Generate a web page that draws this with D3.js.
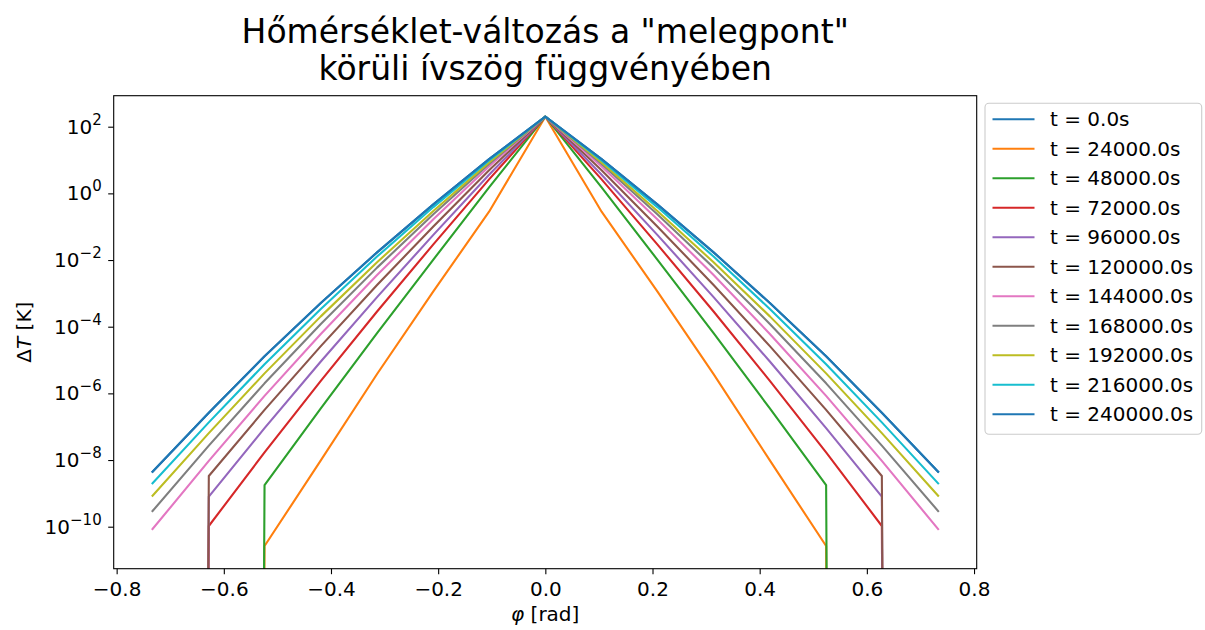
<!DOCTYPE html>
<html>
<head>
<meta charset="utf-8">
<script src="https://cdn.jsdelivr.net/npm/d3@7"></script>
<style>
  body { margin: 0; background: #fff; }
  text { font-family: "DejaVu Sans", sans-serif; fill: #000; }
</style>
</head>
<body>
<div id="chart"></div>
<script>
// angle around the hot spot, in radians (-42 deg .. 42 deg, 6 deg steps)
var phi = [-0.733, -0.628, -0.524, -0.419, -0.314, -0.209, -0.105, 0,
           0.105, 0.209, 0.314, 0.419, 0.524, 0.628, 0.733];

var labels = ["t = 0.0s", "t = 24000.0s", "t = 48000.0s", "t = 72000.0s",
              "t = 96000.0s", "t = 120000.0s", "t = 144000.0s", "t = 168000.0s",
              "t = 192000.0s", "t = 216000.0s", "t = 240000.0s"];

// temperature change [K], 0 where the heat has not arrived yet
var dT_0      = [4.47e-9, 2.63e-7, 1.29e-5, 5.13e-4, 1.70e-2, 0.468, 10.6, 200, 10.6, 0.468, 1.70e-2, 5.13e-4, 1.29e-5, 2.63e-7, 4.47e-9];
var dT_24000  = [0, 0, 2.63e-11, 9.77e-9, 3.80e-6, 1.15e-3, 0.282, 200, 0.282, 1.15e-3, 3.80e-6, 9.77e-9, 2.63e-11, 0, 0];
var dT_48000  = [0, 0, 1.78e-9, 3.53e-7, 6.37e-5, 1.03e-2, 1.51, 200, 1.51, 1.03e-2, 6.37e-5, 3.53e-7, 1.78e-9, 0, 0];
var dT_72000  = [0, 1.05e-10, 1.70e-8, 2.38e-6, 2.86e-4, 2.95e-2, 2.62, 200, 2.62, 2.95e-2, 2.86e-4, 2.38e-6, 1.70e-8, 1.05e-10, 0];
var dT_96000  = [0, 7.94e-10, 9.10e-8, 9.04e-6, 7.71e-4, 5.69e-2, 3.62, 200, 3.62, 5.69e-2, 7.71e-4, 9.04e-6, 9.10e-8, 7.94e-10, 0];
var dT_120000 = [0, 3.31e-9, 3.20e-7, 2.61e-5, 1.78e-3, 0.102, 4.93, 200, 4.93, 0.102, 1.78e-3, 2.61e-5, 3.20e-7, 3.31e-9, 0];
var dT_144000 = [8.51e-11, 9.40e-9, 8.39e-7, 6.07e-5, 3.55e-3, 0.168, 6.44, 200, 6.44, 0.168, 3.55e-3, 6.07e-5, 8.39e-7, 9.40e-9, 8.51e-11];
var dT_168000 = [2.95e-10, 2.70e-8, 2.00e-6, 1.21e-4, 5.92e-3, 0.236, 7.60, 200, 7.60, 0.236, 5.92e-3, 1.21e-4, 2.00e-6, 2.70e-8, 2.95e-10];
var dT_192000 = [8.51e-10, 6.41e-8, 3.98e-6, 2.04e-4, 8.57e-3, 0.297, 8.49, 200, 8.49, 0.297, 8.57e-3, 2.04e-4, 3.98e-6, 6.41e-8, 8.51e-10];
var dT_216000 = [2.00e-9, 1.35e-7, 7.50e-6, 3.41e-4, 1.27e-2, 0.388, 9.73, 200, 9.73, 0.388, 1.27e-2, 3.41e-4, 7.50e-6, 1.35e-7, 2.00e-9];
var dT_240000 = [4.47e-9, 2.63e-7, 1.29e-5, 5.13e-4, 1.70e-2, 0.468, 10.6, 200, 10.6, 0.468, 1.70e-2, 5.13e-4, 1.29e-5, 2.63e-7, 4.47e-9];

var xTicks = [-0.8, -0.6, -0.4, -0.2, 0.0, 0.2, 0.4, 0.6, 0.8];
var yTicks = [1e-10, 1e-8, 1e-6, 1e-4, 1e-2, 1e0, 1e2];

var series = [dT_0, dT_24000, dT_48000, dT_72000, dT_96000, dT_120000,
              dT_144000, dT_168000, dT_192000, dT_216000, dT_240000];
var colors = ["#1f77b4", "#ff7f0e", "#2ca02c", "#d62728", "#9467bd", "#8c564b",
              "#e377c2", "#7f7f7f", "#bcbd22", "#17becf", "#1f77b4"];

var W = 1205, H = 630;
var plot = {left: 113.7, right: 976.7, top: 95.7, bottom: 568.7};

var svg = d3.select("#chart").append("svg")
    .attr("width", W).attr("height", H);

var x = d3.scaleLinear().domain([-0.8055, 0.805]).range([plot.left, plot.right]);
var y = d3.scaleLog().domain([Math.pow(10, -11.26), Math.pow(10, 2.93)])
    .range([plot.bottom, plot.top]);

svg.append("clipPath").attr("id", "clip")
  .append("rect")
    .attr("x", plot.left).attr("y", plot.top)
    .attr("width", plot.right - plot.left).attr("height", plot.bottom - plot.top);

// lines (zeros are clipped to a tiny value, like matplotlib does on a log axis)
var line = d3.line()
    .x(function(d, i) { return x(phi[i]); })
    .y(function(d) { return y(d > 0 ? d : 1e-300); });

svg.append("g").attr("clip-path", "url(#clip)")
  .selectAll("path")
  .data(series)
  .enter()
  .append("path")
    .attr("d", line)
    .attr("fill", "none")
    .attr("stroke", function(d, i) { return colors[i]; })
    .attr("stroke-width", 2.1)
    .attr("stroke-linejoin", "round")
    .attr("stroke-linecap", "square");

// frame
svg.append("rect")
    .attr("x", plot.left).attr("y", plot.top)
    .attr("width", plot.right - plot.left).attr("height", plot.bottom - plot.top)
    .attr("fill", "none").attr("stroke", "#000").attr("stroke-width", 1.1);

// x axis
var xAxis = svg.append("g")
    .attr("transform", "translate(0," + plot.bottom + ")")
    .call(d3.axisBottom(x).tickValues(xTicks).tickSize(5.5).tickPadding(8)
      .tickFormat(function(d) { return d3.format(".1f")(d).replace("-", "\u2212"); }));
xAxis.select(".domain").remove();
xAxis.selectAll("line").attr("stroke", "#000").attr("stroke-width", 1.1);
xAxis.selectAll("text").attr("font-size", 20).attr("font-family", "DejaVu Sans");

// y axis with 10^n labels
var yAxis = svg.append("g")
    .attr("transform", "translate(" + plot.left + ",0)")
    .call(d3.axisLeft(y).tickValues(yTicks).tickSize(5.5).tickFormat(""));
yAxis.select(".domain").remove();
yAxis.selectAll("line").attr("stroke", "#000").attr("stroke-width", 1.1);

var yLab = svg.append("g").selectAll("text")
    .data(yTicks)
    .enter()
    .append("text")
      .attr("x", plot.left - 12)
      .attr("y", function(d) { return y(d) + 7; })
      .attr("text-anchor", "end")
      .attr("font-size", 20);
yLab.append("tspan").text("10");
yLab.append("tspan")
    .attr("dy", -9)
    .attr("font-size", 15)
    .text(function(d) { return String(Math.round(Math.log10(d))).replace("-", "\u2212"); });

// axis labels
svg.append("text")
    .attr("x", (plot.left + plot.right) / 2).attr("y", 621)
    .attr("text-anchor", "middle").attr("font-size", 20)
    .html('<tspan font-style="italic">\u03c6</tspan> [rad]');

svg.append("text")
    .attr("transform", "translate(31," + ((plot.top + plot.bottom) / 2) + ") rotate(-90)")
    .attr("text-anchor", "middle").attr("font-size", 20)
    .html('\u0394<tspan font-style="italic">T</tspan> [K]');

// title
var title = svg.append("text")
    .attr("x", (plot.left + plot.right) / 2)
    .attr("text-anchor", "middle").attr("font-size", 33);
title.append("tspan").attr("x", (plot.left + plot.right) / 2).attr("y", 43)
    .text("H\u0151m\u00e9rs\u00e9klet-v\u00e1ltoz\u00e1s a \"melegpont\"");
title.append("tspan").attr("x", (plot.left + plot.right) / 2).attr("y", 80)
    .text("k\u00f6r\u00fcli \u00edvsz\u00f6g f\u00fcggv\u00e9ny\u00e9ben");

// legend
var leg = svg.append("g");
leg.append("rect")
    .attr("x", 985).attr("y", 103.3).attr("width", 216.7).attr("height", 331)
    .attr("rx", 4).attr("ry", 4)
    .attr("fill", "#fff").attr("stroke", "#cccccc").attr("stroke-width", 1.1);

var rows = leg.selectAll("g.row")
    .data(labels)
    .enter()
    .append("g")
      .attr("class", "row")
      .attr("transform", function(d, i) { return "translate(0," + (119.3 + i * 29.5) + ")"; });
rows.append("line")
    .attr("x1", 992.5).attr("x2", 1034.5)
    .attr("stroke", function(d, i) { return colors[i]; })
    .attr("stroke-width", 2.1);
rows.append("text")
    .attr("x", 1050).attr("y", 7)
    .attr("font-size", 20)
    .text(function(d) { return d; });
</script>
</body>
</html>
